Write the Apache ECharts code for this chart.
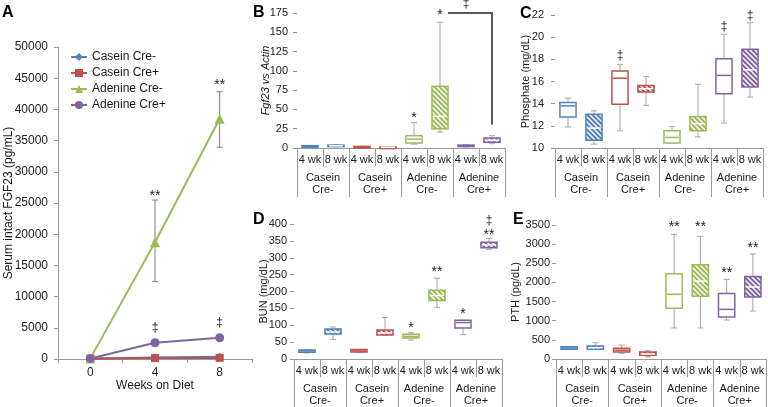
<!DOCTYPE html>
<html><head><meta charset="utf-8">
<script src="https://cdn.jsdelivr.net/npm/echarts@6/dist/echarts.min.js"></script>
<style>html,body{margin:0;padding:0;background:#fff}#c{width:768px;height:407px}</style>
</head><body><div id="c"></div>
<script>
// ---------- DATA ----------
// Panel A
const weeksA = ['0', '4', '8'];
const namesA = ['Casein Cre-', 'Casein Cre+', 'Adenine Cre-', 'Adenine Cre+'];
const caseinCreMinusA = [80, 250, 350];
const caseinCrePlusA = [60, 150, 180];
const adenineCreMinusA = [100, 18700, 38500];
const adenineCrePlusA = [90, 2610, 3410];
const errBarsA = [[1, 12390, 25480], [2, 33930, 42840]];
const annotA = [[1, 26100, '**'], [2, 43900, '**'], [1, 4970, '‡'], [2, 5770, '‡']];

// Shared categories for B-E
const wkLabels = ['4 wk', '8 wk', '4 wk', '8 wk', '4 wk', '8 wk', '4 wk', '8 wk'];
const groupLabels = ['Casein\nCre-', 'Casein\nCre+', 'Adenine\nCre-', 'Adenine\nCre+'];

// Box data: [min, q1, median, q3, max]
const fgf23Boxes = [
  [1, 1.5, 2, 3, 3.2], [1.5, 2, 2.8, 3.8, 4.2], [0.8, 1, 1.5, 2, 2.2], [0.4, 0.6, 0.9, 1.2, 1.4],
  [5, 6.6, 11.5, 16, 33], [20.5, 25, 41, 80, 163], [1.5, 2, 2.8, 3.8, 4.2], [5.5, 7.4, 10, 13, 16]
];
const fgf23Annot = [[4, 39, '*'], [5, 172, '*'], [6, 187, '‡']];
const fgf23Bracket = [[5, 175, 7, 30]];

const phosphateBoxes = [
  [11.9, 12.8, 13.8, 14.1, 14.5], [10.35, 10.7, 11.8, 13.05, 13.35],
  [11.55, 13.95, 16.3, 16.95, 17.55], [13.85, 15.05, 15.35, 15.65, 16.45],
  [10.45, 10.45, 10.95, 11.55, 11.95], [11.0, 11.55, 12.2, 12.85, 15.75],
  [12.25, 14.9, 16.55, 18.05, 20.25], [14.6, 15.5, 17.05, 18.9, 21.3]
];
const phosphateAnnot = [[2, 18.3, '‡'], [6, 20.93, '‡'], [7, 21.92, '‡']];

const bunBoxes = [
  [18, 20, 24, 27, 28], [58, 74, 80, 89, 95], [20, 21, 24, 28, 28], [70, 71, 77, 86, 123],
  [56, 62, 67, 73, 78], [153, 173, 188, 204, 239], [72, 92, 108, 115, 115], [325, 330, 338, 346, 357]
];
const bunAnnot = [[4, 90, '*'], [5, 256, '**'], [6, 132, '*'], [7, 366, '**'], [7, 409, '‡']];

const pthBoxes = [
  [250, 253, 287, 321, 325], [250, 253, 295, 339, 426], [148, 183, 230, 279, 365], [60, 96, 130, 183, 217],
  [810, 1323, 1690, 2228, 3255], [810, 1636, 2036, 2463, 3203], [1018, 1096, 1297, 1714, 2080], [1253, 1618, 1880, 2158, 2741]
];
const pthAnnot = [[4, 3433, '**'], [5, 3433, '**'], [6, 2232, '**'], [7, 2885, '**']];

// ---------- STYLE ----------
const FONT = '"Liberation Sans", Arial, sans-serif';
const TXT = '#1a1a1a';
const AX = '#9a9a9a';
const PALETTE = ['#4F81BD', '#C0504D', '#9BBB59', '#8064A2'];
const plain = v => String(v);

function makePattern(color) {
  const s = 5, c = document.createElement('canvas');
  c.width = s; c.height = s;
  const g = c.getContext('2d');
  g.fillStyle = color; g.fillRect(0, 0, s, s);
  g.strokeStyle = '#ffffff'; g.lineWidth = 1.5;
  g.beginPath();
  g.moveTo(-1, -1); g.lineTo(s + 1, s + 1);
  g.moveTo(-1, s - 1); g.lineTo(1, s + 1);
  g.moveTo(s - 1, -1); g.lineTo(s + 1, 1);
  g.stroke();
  return { image: c, repeat: 'repeat' };
}
const PATTERNS = PALETTE.map(makePattern);

function boxRender(params, api) {
  const i = api.value(0);
  const color = PALETTE[Math.floor(i / 2)];
  const hatched = i % 2 === 1;
  const pLo = api.coord([i, api.value(1)]);
  const pQ1 = api.coord([i, api.value(2)]);
  const pMed = api.coord([i, api.value(3)]);
  const pQ3 = api.coord([i, api.value(4)]);
  const pHi = api.coord([i, api.value(5)]);
  const bw = api.size([1, 0])[0] * 0.62;
  const x = pMed[0];
  const cap = 3;
  const ws = { stroke: '#a6a6a6', lineWidth: 1 };
  const h = Math.max(pQ1[1] - pQ3[1], 1.5);
  return {
    type: 'group',
    children: [
      { type: 'line', shape: { x1: x, y1: pHi[1], x2: x, y2: pQ3[1] }, style: ws },
      { type: 'line', shape: { x1: x, y1: pQ1[1], x2: x, y2: pLo[1] }, style: ws },
      { type: 'line', shape: { x1: x - cap, y1: pHi[1], x2: x + cap, y2: pHi[1] }, style: ws },
      { type: 'line', shape: { x1: x - cap, y1: pLo[1], x2: x + cap, y2: pLo[1] }, style: ws },
      { type: 'rect', shape: { x: x - bw / 2, y: pQ3[1], width: bw, height: h },
        style: { fill: hatched ? PATTERNS[Math.floor(i / 2)] : '#fff', stroke: color, lineWidth: 1.5 } },
      { type: 'line', shape: { x1: x - bw / 2 + 1, y1: pMed[1], x2: x + bw / 2 - 1, y2: pMed[1] },
        style: { stroke: hatched ? '#fff' : color, lineWidth: 1.5 } }
    ]
  };
}

function textSeries(annot, xi, yi) {
  return {
    type: 'custom', xAxisIndex: xi, yAxisIndex: yi, clip: false, z: 5,
    data: annot.map(a => [a[0], a[1]]),
    renderItem: (params, api) => {
      const p = api.coord([api.value(0), api.value(1)]);
      const t = annot[params.dataIndex][2];
      const size = t === '‡' ? 12 : 14;
      return { type: 'text', x: p[0], y: p[1],
        style: { text: t, fill: TXT, font: size + 'px ' + FONT, align: 'center', verticalAlign: 'middle' } };
    }
  };
}

function boxSeries(boxes, xi, yi) {
  return { type: 'custom', xAxisIndex: xi, yAxisIndex: yi, clip: false,
    data: boxes.map((b, i) => [i].concat(b)), renderItem: boxRender };
}

function catAxes(g, tickLen2) {
  return [
    { type: 'category', gridIndex: g, position: 'bottom', data: wkLabels,
      axisLine: { show: true, lineStyle: { color: AX } },
      axisTick: { show: true, interval: 0, length: 18, lineStyle: { color: AX } },
      axisLabel: { interval: 0, fontSize: 11, color: TXT, fontFamily: FONT, margin: 6 } },
    { type: 'category', gridIndex: g, position: 'bottom', data: groupLabels,
      axisLine: { show: false },
      axisTick: { show: true, interval: 0, length: tickLen2, lineStyle: { color: AX } },
      axisLabel: { interval: 0, fontSize: 11, color: TXT, fontFamily: FONT, margin: 24, lineHeight: 12 } }
  ];
}

function valAxis(g, min, max, interval, name, nameGap, labelMargin, italic) {
  return { type: 'value', gridIndex: g, min, max, interval,
    axisLine: { show: false },
    axisTick: { show: true, length: 4, lineStyle: { color: AX } },
    splitLine: { show: false },
    axisLabel: { fontSize: 11, color: TXT, fontFamily: FONT, margin: labelMargin, formatter: plain },
    name, nameLocation: 'middle', nameGap, nameMoveOverlap: false,
    nameTextStyle: { fontSize: 11, color: TXT, fontFamily: FONT, fontStyle: italic ? 'italic' : 'normal' } };
}

const chart = echarts.init(document.getElementById('c'), null, { renderer: 'canvas' });

const lineCfg = (name, data, idx, symbol, size) => ({
  type: 'line', name, data, xAxisIndex: 0, yAxisIndex: 0,
  symbol, symbolSize: size, lineStyle: { width: 2, color: PALETTE[idx] },
  itemStyle: { color: PALETTE[idx] }, z: 3 + idx
});

const option = {
  animation: false,
  backgroundColor: '#fff',
  textStyle: { fontFamily: FONT },
  grid: [
    { left: 58, top: 47, width: 194, height: 312 },
    { left: 297, top: 13, width: 208, height: 135 },
    { left: 555, top: 15, width: 208, height: 133 },
    { left: 294, top: 224, width: 208, height: 135 },
    { left: 556, top: 225, width: 210, height: 134 }
  ],
  xAxis: [
    { type: 'category', gridIndex: 0, data: weeksA,
      axisLine: { lineStyle: { color: AX } },
      axisTick: { show: true, interval: 0, length: 4, lineStyle: { color: AX } },
      axisLabel: { fontSize: 12, color: TXT, fontFamily: FONT, margin: 8 },
      name: 'Weeks on Diet', nameLocation: 'middle', nameGap: 21, nameMoveOverlap: false,
      nameTextStyle: { fontSize: 12, color: TXT, fontFamily: FONT } }
  ].concat(catAxes(1, 49), catAxes(2, 49), catAxes(3, 48), catAxes(4, 48)),
  yAxis: [
    { type: 'value', gridIndex: 0, min: 0, max: 50000, interval: 5000,
      axisLine: { show: true, lineStyle: { color: AX } },
      axisTick: { show: true, length: 4, lineStyle: { color: AX } },
      splitLine: { show: false },
      axisLabel: { fontSize: 12, color: TXT, fontFamily: FONT, margin: 10, formatter: plain },
      name: 'Serum intact FGF23 (pg/mL)', nameLocation: 'middle', nameGap: 43, nameMoveOverlap: false,
      nameTextStyle: { fontSize: 12, color: TXT, fontFamily: FONT } },
    valAxis(1, 0, 175, 25, 'Fgf23 vs Actin', 26, 9, true),
    valAxis(2, 10, 22, 2, 'Phosphate (mg/dL)', 24, 11, false),
    valAxis(3, 0, 400, 50, 'BUN (mg/dL)', 25, 7, false),
    valAxis(4, 0, 3500, 500, 'PTH (pg/dL)', 35, 6, false)
  ],
  legend: {
    data: namesA, orient: 'vertical', left: 70, top: 51, padding: 0, itemWidth: 16, itemHeight: 10, itemGap: 4,
    textStyle: { fontSize: 12, color: TXT, fontFamily: FONT }
  },
  graphic: [
    { type: 'text', left: 2, top: 5, style: { text: 'A', font: 'bold 16px ' + FONT, fill: '#000' } },
    { type: 'text', left: 253, top: 5, style: { text: 'B', font: 'bold 16px ' + FONT, fill: '#000' } },
    { type: 'text', left: 520, top: 6, style: { text: 'C', font: 'bold 16px ' + FONT, fill: '#000' } },
    { type: 'text', left: 253, top: 212, style: { text: 'D', font: 'bold 16px ' + FONT, fill: '#000' } },
    { type: 'text', left: 513, top: 212, style: { text: 'E', font: 'bold 16px ' + FONT, fill: '#000' } }
  ],
  series: [
    {
      type: 'custom', xAxisIndex: 0, yAxisIndex: 0, clip: false, z: 2,
      data: errBarsA,
      renderItem: (params, api) => {
        const lo = api.coord([api.value(0), api.value(1)]);
        const hi = api.coord([api.value(0), api.value(2)]);
        const st = { stroke: '#7f7f7f', lineWidth: 1 };
        return { type: 'group', children: [
          { type: 'line', shape: { x1: lo[0], y1: lo[1], x2: hi[0], y2: hi[1] }, style: st },
          { type: 'line', shape: { x1: lo[0] - 3, y1: lo[1], x2: lo[0] + 3, y2: lo[1] }, style: st },
          { type: 'line', shape: { x1: hi[0] - 3, y1: hi[1], x2: hi[0] + 3, y2: hi[1] }, style: st }
        ] };
      }
    },
    lineCfg(namesA[0], caseinCreMinusA, 0, 'diamond', 8),
    lineCfg(namesA[1], caseinCrePlusA, 1, 'rect', 8),
    lineCfg(namesA[2], adenineCreMinusA, 2, 'triangle', 10),
    lineCfg(namesA[3], adenineCrePlusA, 3, 'circle', 9),
    textSeries(annotA, 0, 0),
    boxSeries(fgf23Boxes, 1, 1),
    {
      type: 'custom', xAxisIndex: 1, yAxisIndex: 1, clip: false, z: 4,
      data: fgf23Bracket,
      renderItem: (params, api) => {
        const a = api.coord([api.value(0), api.value(1)]);
        const b = api.coord([api.value(2), api.value(1)]);
        const c = api.coord([api.value(2), api.value(3)]);
        return { type: 'polyline', shape: { points: [[a[0] + 8, a[1]], b, c] },
          style: { stroke: '#595959', lineWidth: 2, fill: null } };
      }
    },
    textSeries(fgf23Annot, 1, 1),
    boxSeries(phosphateBoxes, 3, 2),
    textSeries(phosphateAnnot, 3, 2),
    boxSeries(bunBoxes, 5, 3),
    textSeries(bunAnnot, 5, 3),
    boxSeries(pthBoxes, 7, 4),
    textSeries(pthAnnot, 7, 4)
  ]
};
chart.setOption(option);
</script></body></html>
